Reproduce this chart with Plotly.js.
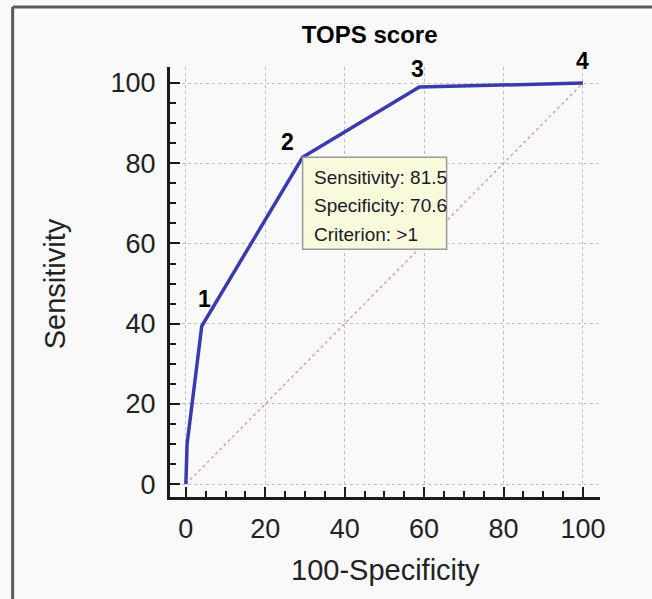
<!DOCTYPE html>
<html>
<head>
<meta charset="utf-8">
<script src="https://cdn.plot.ly/plotly-3.0.1.min.js"></script>
<style>
html,body{margin:0;padding:0;background:#f9f9f9;}
#chart{width:652px;height:599px;}
</style>
</head>
<body>
<div id="chart"></div>
<script>
// ROC curve points (100-Specificity, Sensitivity)
const fpr = [0, 0.3, 4.0, 29.4, 58.8, 100];
const tpr = [0, 10, 39.4, 81.5, 99.0, 100];
// criterion points labelled 1..4
const pointLabels = ["1", "2", "3", "4"];
const pointX = [4.0, 29.4, 58.8, 100];
const pointY = [39.4, 81.5, 99.0, 100];
// reference diagonal
const diagX = [0, 100];
const diagY = [0, 100];
// tooltip text
const tipLines = ["Sensitivity: 81.5", "Specificity: 70.6", "Criterion: >1"];
const tipX = 29.4, tipY = 81.5;
const tickVals = [0, 20, 40, 60, 80, 100];

const labelShift = [[3, 27], [-15, 15], [-2, 18], [0, 22]];

const annotations = [];
pointLabels.forEach((t, i) => {
  annotations.push({
    x: pointX[i], y: pointY[i], xref: 'x', yref: 'y', text: t, showarrow: false,
    xshift: labelShift[i][0], yshift: labelShift[i][1],
    font: {family: 'Liberation Sans, Arial, sans-serif', size: 23, color: '#000', weight: 'bold'},
    xanchor: 'center', yanchor: 'middle'
  });
});
const tipShifts = [-20, -48.5, -77];
tipLines.forEach((t, i) => {
  annotations.push({
    x: tipX, y: tipY, xref: 'x', yref: 'y', text: t, showarrow: false,
    xshift: 9, yshift: tipShifts[i], xanchor: 'left', yanchor: 'middle',
    font: {family: 'Liberation Sans, Arial, sans-serif', size: 19, color: '#1a1a2a'}
  });
});
// axis titles
annotations.push({
  xref: 'paper', yref: 'paper', x: -0.267, y: 0.495, text: 'Sensitivity', textangle: -90,
  showarrow: false, xanchor: 'center', yanchor: 'middle',
  font: {family: 'Liberation Sans, Arial, sans-serif', size: 29, color: '#222'}
});
annotations.push({
  xref: 'paper', yref: 'paper', x: 0.5, y: -0.17, text: '100-Specificity',
  showarrow: false, xanchor: 'center', yanchor: 'middle',
  font: {family: 'Liberation Sans, Arial, sans-serif', size: 29, color: '#222'}
});

const axisCommon = {
  showline: true, linecolor: '#1a1a1a', linewidth: 3,
  ticks: 'inside', ticklen: 10, tickwidth: 2, tickcolor: '#1a1a1a',
  tickvals: tickVals, ticktext: tickVals.map(String),
  tickfont: {family: 'Liberation Sans, Arial, sans-serif', size: 27, color: '#222'},
  showgrid: true, gridcolor: '#c0c0c0', griddash: 'dot', gridwidth: 1,
  zeroline: false,
  minor: {dtick: 5, ticks: 'inside', ticklen: 6, tickwidth: 2, tickcolor: '#1a1a1a', showgrid: false},
  fixedrange: true
};

const layout = {
  width: 652, height: 599,
  paper_bgcolor: '#f9f9f9', plot_bgcolor: '#f9f9f9',
  margin: {l: 170, r: 52, t: 67, b: 102},
  showlegend: false,
  title: {
    text: 'TOPS score', xref: 'container', yref: 'container', x: 0.567, y: 0.942,
    xanchor: 'center', yanchor: 'middle',
    font: {family: 'Liberation Sans, Arial, sans-serif', size: 24, color: '#000', weight: 'bold'}
  },
  xaxis: Object.assign({}, axisCommon, {range: [-4, 104.3], ticklabelstandoff: 6}),
  yaxis: Object.assign({}, axisCommon, {range: [-3.2, 104], ticklabelstandoff: 6}),
  annotations: annotations,
  shapes: [
    // tooltip box
    {type: 'rect', xref: 'x', yref: 'y', xsizemode: 'pixel', ysizemode: 'pixel',
     xanchor: tipX, yanchor: tipY, x0: 0, x1: 144, y0: 0, y1: -92,
     fillcolor: '#f9f9dc', line: {color: '#9a9a9a', width: 1.5}, layer: 'above'},
    // outer frame (left and top edges)
    {type: 'line', xref: 'paper', yref: 'paper', x0: -0.366, x1: -0.366, y0: -0.3, y1: 1.1395,
     line: {color: '#5a5a5a', width: 3}},
    {type: 'line', xref: 'paper', yref: 'paper', x0: -0.366, x1: 1.2, y0: 1.1395, y1: 1.1395,
     line: {color: '#5a5a5a', width: 3}}
  ]
};

const data = [
  {x: diagX, y: diagY, type: 'scatter', mode: 'lines',
   line: {color: '#e08a8a', width: 1.2, dash: 'dot'}, hoverinfo: 'skip'},
  {x: fpr, y: tpr, type: 'scatter', mode: 'lines',
   line: {color: '#3a3aae', width: 3.5}, hoverinfo: 'skip'}
];

Plotly.newPlot('chart', data, layout, {displayModeBar: false, staticPlot: true});
</script>
</body>
</html>
